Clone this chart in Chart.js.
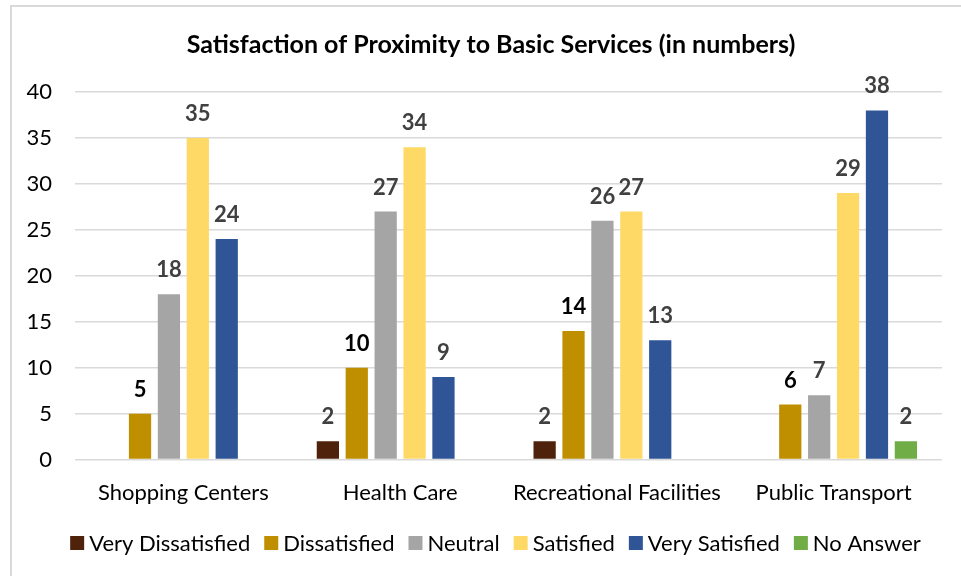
<!DOCTYPE html>
<html>
<head>
<meta charset="utf-8">
<script src="https://cdn.jsdelivr.net/npm/chart.js@4/dist/chart.umd.min.js"></script>
<style>
  html, body { margin: 0; padding: 0; background: #fff; overflow: hidden; }
  #frame {
    position: absolute; left: 10px; top: 5px; width: 1000px; height: 620px;
    border: 2px solid #d9d9d9; box-sizing: border-box;
  }
  #wrap { position: absolute; left: 0; top: 0; width: 961px; height: 576px; }
</style>
</head>
<body>
<div id="frame"></div>
<div id="wrap"><canvas id="chart" width="961" height="576"></canvas></div>
<script>

  /* ===================== DATA ===================== */

  let chartTitle = 'Satisfaction of Proximity to Basic Services (in numbers)';

  let categories = ['Shopping Centers', 'Health Care', 'Recreational Facilities', 'Public Transport'];

  let veryDissatisfied = [null, 2, 2, null];
  let dissatisfied = [5, 10, 14, 6];
  let neutral = [18, 27, 26, 7];
  let satisfied = [35, 34, 27, 29];
  let verySatisfied = [24, 9, 13, 38];
  let noAnswer = [null, null, null, 2];

  let yTicks = [0, 5, 10, 15, 20, 25, 30, 35, 40];

  /* ===================== CHART ===================== */

  let font = 'Lato, Carlito, Calibri, sans-serif';

  function serie(label, data, color, labelColor) {
    return {
      label,
      data,
      backgroundColor: color,
      borderWidth: 0,
      categoryPercentage: 0.8,
      barPercentage: 0.77,
      labelColor
    };
  }

  // etiquetas encima de cada barra
  let valueLabels = {
    id: 'valueLabels',
    afterDatasetsDraw(chart) {
      let ctx = chart.ctx;
      ctx.save();
      ctx.font = `bold 22px ${font}`;
      ctx.textAlign = 'center';
      ctx.textBaseline = 'middle';
      chart.data.datasets.forEach((ds, i) => {
        let meta = chart.getDatasetMeta(i);
        meta.data.forEach((bar, j) => {
          if (ds.data[j] == null) return;
          ctx.fillStyle = ds.labelColor;
          ctx.fillText(String(ds.data[j]), bar.x, bar.y - 24);
        });
      });
      ctx.restore();
    }
  };

  // titulo centrado sobre el marco, y leyenda compacta abajo
  let titleAndLegend = {
    id: 'titleAndLegend',
    afterDraw(chart) {
      let ctx = chart.ctx;
      ctx.save();
      ctx.fillStyle = '#000';
      ctx.textAlign = 'center';
      ctx.textBaseline = 'middle';
      ctx.font = `bold 25px ${font}`;
      ctx.fillText(chartTitle, 491, 45);

      let box = 14, gap = 5, space = 14;
      ctx.textAlign = 'left';
      ctx.font = `22px ${font}`;
      let items = chart.data.datasets.map(ds => ({
        label: ds.label, color: ds.backgroundColor, w: ctx.measureText(ds.label).width
      }));
      let total = items.reduce((s, it) => s + box + gap + it.w, 0) + space * (items.length - 1);
      let x = 495.5 - total / 2;
      let y = 543;
      items.forEach(it => {
        ctx.fillStyle = it.color;
        ctx.fillRect(x, y - box / 2, box, box);
        ctx.fillStyle = '#000';
        ctx.fillText(it.label, x + box + gap, y + 1);
        x += box + gap + it.w + space;
      });
      ctx.restore();
    }
  };

  new Chart(document.getElementById('chart').getContext('2d'), {
    type: 'bar',
    data: {
      labels: categories,
      datasets: [
        serie('Very Dissatisfied', veryDissatisfied, '#4f230b', '#404040'),
        serie('Dissatisfied', dissatisfied, '#bf8f00', '#000000'),
        serie('Neutral', neutral, '#a5a5a5', '#404040'),
        serie('Satisfied', satisfied, '#ffd966', '#404040'),
        serie('Very Satisfied', verySatisfied, '#2f5597', '#404040'),
        serie('No Answer', noAnswer, '#70ad47', '#404040')
      ]
    },
    options: {
      responsive: false,
      animation: false,
      layout: { padding: { left: 0, right: 19, top: 92, bottom: 58 } },
      plugins: {
        title: { display: false },
        legend: { display: false },
        tooltip: { enabled: false }
      },
      scales: {
        x: {
          grid: { display: false },
          border: { display: false },
          ticks: { color: '#000', font: { family: font, size: 22 }, padding: 12, maxRotation: 0 }
        },
        y: {
          min: 0,
          max: 40,
          afterBuildTicks: axis => { axis.ticks = yTicks.map(v => ({ value: v })); },
          afterFit: axis => { axis.width = 75; },
          grid: { color: '#d9d9d9', lineWidth: 1.5, drawTicks: false },
          border: { display: false },
          ticks: { color: '#000', font: { family: font, size: 22 }, padding: 23 }
        }
      }
    },
    plugins: [valueLabels, titleAndLegend]
  });

</script>
</body>
</html>
